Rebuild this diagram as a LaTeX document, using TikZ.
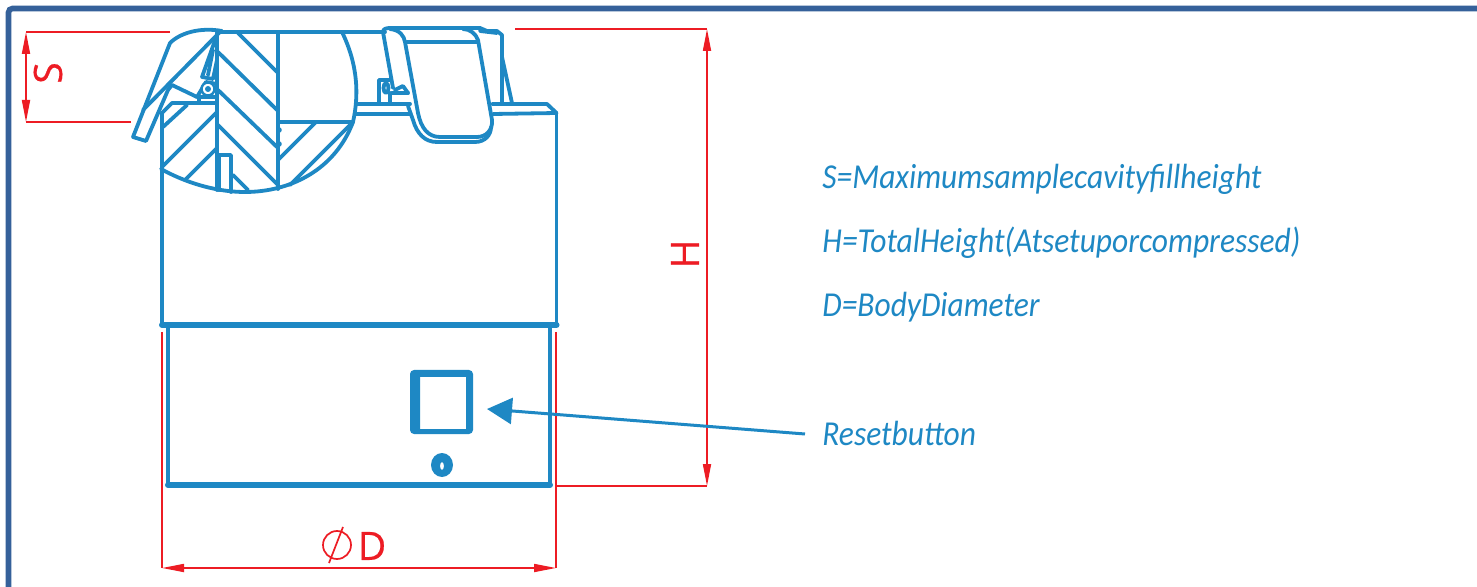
\documentclass[tikz,border=0pt]{standalone}
\usepackage{fontspec}
\setmainfont{Carlito}[ItalicFeatures={FakeStretch=0.9}]
\newfontfamily\dimfont{Open Sans}[FakeBold=0.5]
\usetikzlibrary{arrows.meta}
\definecolor{steel}{HTML}{1E88C4}
\definecolor{dimred}{HTML}{ED1C24}
\definecolor{frameblue}{HTML}{35619A}
\tikzset{
  part/.style={draw=steel,line width=1.9pt,line join=round,line cap=round},
  thin part/.style={draw=steel,line width=1.2pt,line join=round,line cap=round},
  band/.style={draw=steel,line width=3pt,line join=round,line cap=round},
  dimline/.style={draw=dimred,line width=0.85pt},
  dimarrow/.style={dimline,{Triangle[length=11pt,width=4pt,fill=dimred]}-{Triangle[length=11pt,width=4pt,fill=dimred]}},
  dimtext/.style={text=dimred,font=\dimfont\fontsize{19.5pt}{20pt}\selectfont,inner sep=0pt},
  legend/.style={text=steel,font=\itshape\fontsize{17.5pt}{20pt}\selectfont,anchor=base west,inner sep=0pt},
}
\begin{document}
\begin{tikzpicture}[x=0.5pt,y=-0.5pt]
\useasboundingbox (0,0) rectangle (1477,587);
\fill[white] (0,0) rectangle (1477,587);
\draw[frameblue,line width=2.8pt,rounded corners=2pt] (8.5,590)--(8.5,8.5)--(1480,8.5);

% named dimension points
\coordinate (Stop) at (26,32);
\coordinate (Sbot) at (26,122);
\coordinate (Stopfree) at (170,32);
\coordinate (Sbotfree) at (131,122);
\coordinate (Htop) at (707,29);
\coordinate (Hbot) at (707,486);
\coordinate (Htopfree) at (515,29);
\coordinate (Hbotfree) at (556,486);
\coordinate (Dleft) at (162,568);
\coordinate (Dright) at (556,568);
\coordinate (Dlefttop) at (162,332);
\coordinate (Drighttop) at (556,332);

% body
\draw[part] (162,113)--(162,325);
\draw[part] (556.5,113)--(556.5,325);
\draw[band] (162,325)--(556.5,325);
\draw[part] (168,325)--(168,485);
\draw[part] (550,325)--(550,485);
\draw[band] (168,485)--(550,485);
\draw[part] (357,104)--(410,104);
\draw[part] (356,114)--(410,114);
\draw[part] (492,104)--(547,104)--(556.5,113)--(493,114);

% section outline
\draw[part] (161,169) .. controls (190,185) and (220,192) .. (245,192)
  .. controls (290,192) and (335,170) .. (353,122)
  .. controls (359,95) and (358,65) .. (342,32);
\draw[part] (220,32)--(385,32);
\draw[part] (217,33)--(217,190);
\draw[part] (278,32)--(278,189);
\draw[part] (278,122)--(353,122);

% hatching
\draw[part] (238,33)--(277,72);
\draw[part] (218,52)--(277,110);
\draw[part] (218,90)--(278,148);
\draw[part] (218,125)--(278,185);
\draw[part] (233,175)--(248,190);
\draw[part] (219,190)--(219,155)--(231,155)--(231,192);
\draw[part] (217,112)--(162,167);
\draw[part] (187,105)--(163,127);
\draw[part] (217,148)--(185,180);
\draw[part] (316,122)--(278,160);
\draw[part] (352,123)--(290,185);
\fill[steel] (279,130) circle (1.4pt) (279,144) circle (1.4pt) (279,158) circle (1.2pt);

% left latch
\draw[part] (170,43) .. controls (180,33) and (200,27) .. (222,31);
\draw[part] (170,43)--(133,137)--(146,141)--(168,90)--(172,85)--(197,97);
\draw[part] (143,110)--(220,32);
\draw[part] (162,113)--(172,103)--(217,103);
\draw[part] (218,32)--(202,77)--(213,79)--(217,60);
\draw[part] (213,50)--(208,75);
\draw[part] (197,97)--(206,82)--(217,84);
\draw[part] (199,97)--(199,103);
\draw[part] (199,97)--(217,97);
\fill[white] (208,89) circle (6.5);
\draw[thin part] (208,89) circle (6.5);
\fill[steel] (208,89) circle (1.5pt);

% right clip
\draw[part] (383,32) .. controls (383,29) and (386,28) .. (390,28)--(480,28)--(487,31)--(497,31)--(502,35)--(502,103);
\draw[part] (383,32)--(393,88);
\draw[part] (408,106)--(413,120) .. controls (417,134) and (425,142) .. (437,142)--(475,142) .. controls (485,142) and (491,135) .. (491,127);
\draw[part] (390,29) .. controls (400,30) and (404,36) .. (405,42)--(418,113)
  .. controls (421,128) and (428,137) .. (440,137)--(477,137)
  .. controls (486,137) and (493,130) .. (492,120)--(478,40) .. controls (476,34) and (470,29) .. (463,29);
\draw[part] (407,42)--(477,42);
\draw[part] (480,31)--(497,33);
\draw[part] (502,57)--(512,103);
\draw[part] (379,103)--(379,80)--(390,80);
\draw[part] (390,93)--(390,103);
\draw[part] (392,93)--(408,93);
\draw[part] (395,90)--(403,86)--(408,93);
\draw[part] (386,88) ellipse (2.5 and 5);

% reset button and screw
\fill[steel,even odd rule,rounded corners=2pt] (410,370) rectangle (473,434) [sharp corners] (420,377) rectangle (466,429);
\fill[steel,even odd rule] (442,465) ellipse (11 and 12) (442,466) ellipse (2 and 4);

% dimensions
\draw[dimline] (Stopfree)--(Stop);
\draw[dimline] (Sbotfree)--(Sbot);
\draw[dimarrow] (Stop)--(Sbot);
\node[dimtext,rotate=90] (Slabel) at (48,73) {S};
\draw[dimline] (Htopfree)--(Htop);
\draw[dimline] (Hbotfree)--(Hbot);
\draw[dimarrow] (Htop)--(Hbot);
\node[dimtext,rotate=90] (Hlabel) at (685,254) {H};
\draw[dimline] (Dlefttop)--(Dleft);
\draw[dimline] (Drighttop)--(Dright);
\draw[dimarrow] (Dleft)--(Dright);
\draw[dimline] (337,545) circle (14) (343,527)--(329,563);
\node[dimtext] (Dlabel) at (372,546) {D};

% legend
\node[legend] (lS) at (822,189) {S=Maximumsamplecavityfillheight};
\node[legend] (lH) at (822,253) {H=TotalHeight(Atsetuporcompressed)};
\node[legend] (lD) at (822,317) {D=BodyDiameter};
\node[legend] (lR) at (822,445) {Resetbutton};
\coordinate (Rstart) at (805,434);
\coordinate (Rtip) at (487,409);
\draw[steel,line width=1.5pt,-{Triangle[length=12.5pt,width=13pt]}] (Rstart)--(Rtip);
\end{tikzpicture}
\end{document}
